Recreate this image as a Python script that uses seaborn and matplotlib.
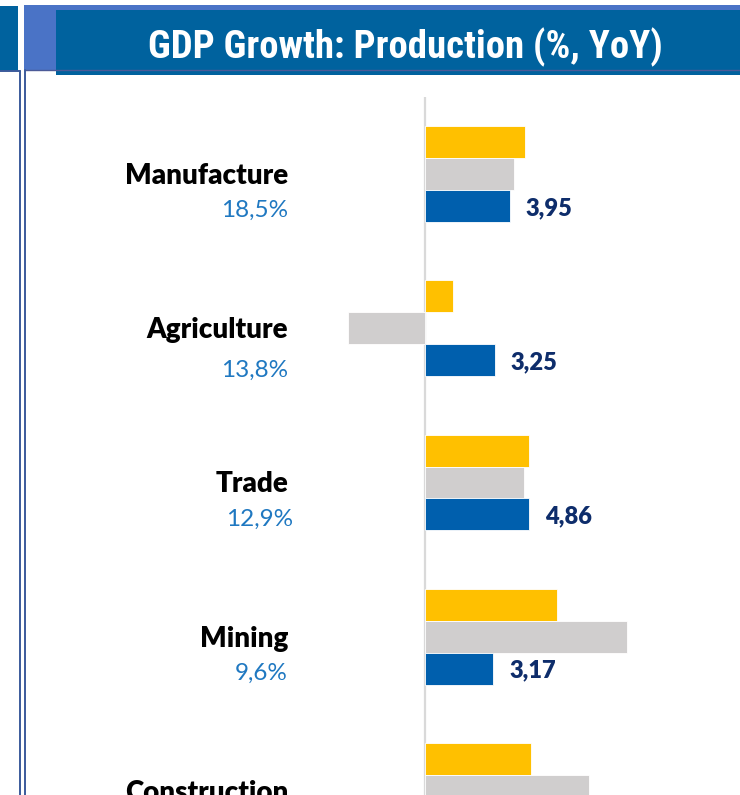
import matplotlib
matplotlib.use("Agg")
import matplotlib.pyplot as plt
import seaborn as sns
import numpy as np
import pandas as pd
from matplotlib import font_manager, transforms
from matplotlib.patches import Rectangle
from matplotlib.lines import Line2D

# ---------------- data ----------------
sectors = ["Manufacture", "Agriculture", "Trade", "Mining", "Construction"]
shares = ["18,5%", "13,8%", "12,9%", "9,6%", ""]
series_names = ["Period 1", "Period 2", "Period 3"]
period1 = [4.65, 1.30, 4.85, 6.14, 4.93]      # yellow
period2 = [4.14, -3.60, 4.60, 9.38, 7.63]     # grey
period3 = [3.95, 3.25, 4.86, 3.17, np.nan]    # blue (labelled)
title = "GDP Growth: Production (%, YoY)"

colors = ["#FFC000", "#D0CECE", "#005FAD"]

# ---------------- fonts ----------------
sns.set_theme(style="white")
names = {f.name for f in font_manager.fontManager.ttflist}


def pick(cands):
    for c in cands:
        if c in names:
            return c
    return "DejaVu Sans"


label_font = pick(["Lato", "Open Sans", "Noto Sans", "DejaVu Sans"])
title_font = pick(["Liberation Sans Narrow", "Roboto Condensed", "DejaVu Sans Condensed",
                   "Liberation Sans", "Roboto"])
plt.rcParams["font.family"] = [label_font, "DejaVu Sans"]

W, H = 740, 795
fig = plt.figure(figsize=(W / 100, H / 100), dpi=100)
fig.patch.set_facecolor("white")


def fx(px):
    return px / W


def fy(py):
    return 1 - py / H


def rect(x0, y0, x1, y1, color, z=0):
    fig.add_artist(Rectangle((fx(x0), fy(y1)), (x1 - x0) / W, (y1 - y0) / H,
                             transform=fig.transFigure, facecolor=color,
                             edgecolor="none", zorder=z))


def line(xs, ys, color="#3B5A9B", lw=1.4, z=3):
    fig.add_artist(Line2D([fx(x) for x in xs], [fy(y) for y in ys],
                          transform=fig.transFigure, color=color, lw=lw, zorder=z))


# ---------------- header ----------------
rect(0, 6, 18, 71, "#00629E", 1)
rect(24, 5, 740, 70, "#4A73C6", 1)
rect(56, 10, 740, 75, "#00629E", 2)
line([0, 19.5], [70.5, 70.5])
line([19.5, 19.5], [70.5, 800])
line([24.5, 740], [69.5, 69.5], color="#4C5A97", lw=1.0)
line([24.5, 24.5], [69.5, 800])

t = fig.text(fx(405), fy(58), title, ha="center", va="baseline", color="white",
             fontweight="bold", family=[title_font, "DejaVu Sans"], fontsize=27, zorder=5)
fig.canvas.draw()
w = t.get_window_extent().width
t.set_fontsize(27 * 514 / w)

# ---------------- bars ----------------
zero_px, ppu = 425, 21.5
ax_l, ax_r, ax_t = 330, 740, 97
ax = fig.add_axes([fx(ax_l), 0, (ax_r - ax_l) / W, (H - ax_t) / H])

df = pd.DataFrame({
    "sector": np.repeat(sectors, 3),
    "series": series_names * len(sectors),
    "value": np.ravel(np.column_stack([period1, period2, period3])),
})

sns.barplot(data=df, y="sector", x="value", hue="series", order=sectors,
            hue_order=series_names, palette=colors, width=0.62, orient="h",
            saturation=1, edgecolor="white", linewidth=0.6, legend=False, ax=ax,
            errorbar=None)

ax.set_xlim((ax_l - zero_px) / ppu, (ax_r - zero_px) / ppu)
spacing = 154.25
ax.set_ylim((H - 174) / spacing, (ax_t - 174) / spacing)
ax.set_axis_off()
ax.axvline(0, color="#D9D9D9", lw=1.6, zorder=0.5)

# value labels on blue bars
off = transforms.offset_copy(ax.transData, fig=fig, x=16, y=-9, units="dots")
bar_h = 0.62 / 3
for i, v in enumerate(period3):
    if np.isnan(v):
        continue
    ax.text(v, i + bar_h, f"{v:.2f}".replace(".", ","), transform=off,
            ha="left", va="baseline", color="#0E2D6B", fontsize=17,
            fontweight="heavy", clip_on=False)

# category labels + shares
blend = transforms.blended_transform_factory(fig.transFigure, ax.transData)
pct_dy = [43, 49, 43, 43, 43]
pct_dx = [0, 0, 5, 0, 0]
for i, (s, p) in enumerate(zip(sectors, shares)):
    tr1 = transforms.offset_copy(blend, fig=fig, x=0, y=-10, units="dots")
    ax.text(fx(288), i, s, transform=tr1, ha="right", va="baseline",
            color="black", fontsize=20, fontweight="heavy", clip_on=False)
    if p:
        tr2 = transforms.offset_copy(blend, fig=fig, x=pct_dx[i], y=-pct_dy[i], units="dots")
        ax.text(fx(288), i, p, transform=tr2, ha="right", va="baseline",
                color="#1F78C1", fontsize=17.5, clip_on=False)

fig.savefig("out.png", dpi=100, facecolor=fig.get_facecolor())
